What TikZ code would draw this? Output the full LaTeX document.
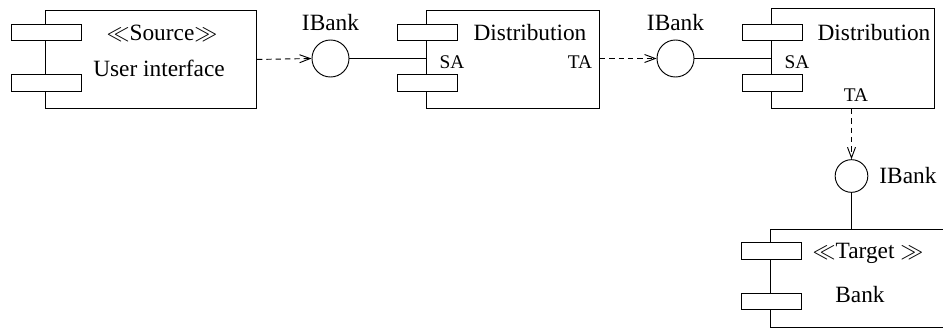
\documentclass[tikz,border=0pt]{standalone}
\usepackage{fontspec}
\setmainfont{Liberation Serif}
\usetikzlibrary{arrows.meta}

\tikzset{
	comp/.style={draw, anchor=north west, inner sep=0pt},
	tab/.style={draw, fill=white, minimum width=45pt, minimum height=12.5pt, inner sep=0pt},
	iface/.style={draw, circle, minimum size=27.75pt, inner sep=0pt},
	txt/.style={inner sep=0pt, font=\fontsize{17.5}{20}\selectfont},
	port/.style={inner sep=0pt, font=\fontsize{14.5}{16}\selectfont},
	req/.style={dash pattern=on 4pt off 3pt, -{Straight Barb[length=8pt,width=6pt]}},
}

\begin{document}
\begin{tikzpicture}[x=0.75pt,y=-0.75pt,line width=0.7pt]
	\useasboundingbox (0,0) rectangle (943,329);
	% components
	\node[comp, minimum width=158.25pt, minimum height=73.5pt] (ui) at (45,10) {};
	\node[comp, minimum width=129.75pt, minimum height=73.5pt] (dist1) at (426,10) {};
	\node[comp, minimum width=122.25pt, minimum height=75pt] (dist2) at (771,8) {};
	\node[comp, minimum width=135pt, minimum height=73.5pt] (bank) at (770,229) {};
	% tabs
	\node[tab, minimum width=53pt] (ui1) at (46.5,32.5) {};
	\node[tab, minimum width=53pt] (ui2) at (46.5,83) {};
	\node[tab] (d1a) at (427,32.5) {};
	\node[tab] (d1b) at (427,83) {};
	\node[tab] (d2a) at (772,32.5) {};
	\node[tab] (d2b) at (772,83) {};
	\node[tab] (b1) at (771.5,251) {};
	\node[tab] (b2) at (771.5,301.5) {};
	% texts
	\node[txt] (src) at (162,33) {$\ll$Source$\gg$};
	\node[txt] (uitxt) at (159,68) {User interface};
	\node[txt] (d1txt) at (530,33) {Distribution};
	\node[port] (sa1) at (452,62) {SA};
	\node[port] (ta1) at (580,62) {TA};
	\node[txt] (d2txt) at (874,33) {Distribution};
	\node[port] (sa2) at (797,62) {SA};
	\node[port] (ta2) at (856,95) {TA};
	\node[txt] (tgt) at (868,253) {$\ll$Target $\gg$};
	\node[txt] (banktxt) at (860,295) {Bank};
	% interfaces
	\node[iface] (ib1) at (330.5,58.5) {};
	\node[iface] (ib2) at (675.5,58.5) {};
	\node[iface, minimum size=24.5pt] (ib3) at (851.5,176) {};
	\node[txt] at (ib1.north) [above=6pt] {IBank};
	\node[txt] at (ib2.north) [above=6pt] {IBank};
	\node[txt] at (ib3.east) [right=8pt] {IBank};
	% connectors
	\draw[req] (ui.east) -- (ib1.west);
	\draw (ib1.east) -- (ib1.east -| dist1.west);
	\draw[req] (dist1.east |- ib2) -- (ib2.west);
	\draw (ib2.east) -- (ib2.east -| dist2.west);
	\draw[req] (ib3 |- dist2.south) -- (ib3.north);
	\draw (ib3.south) -- (ib3 |- bank.north);
\end{tikzpicture}
\end{document}
